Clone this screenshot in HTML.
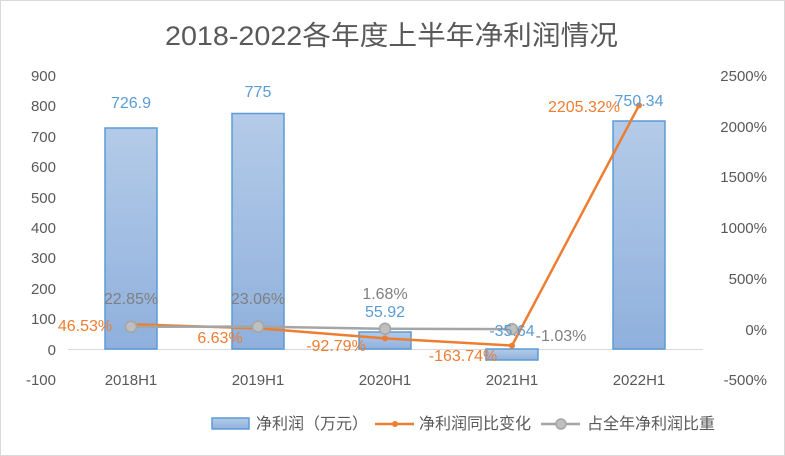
<!DOCTYPE html>
<html><head><meta charset="utf-8"><style>
html,body{margin:0;padding:0;background:#fff}
svg{display:block}
text{font-family:"Liberation Sans","Noto Sans CJK SC",sans-serif}
</style></head><body>
<svg width="785" height="456" viewBox="0 0 785 456">
<defs><linearGradient id="g" x1="0" y1="0" x2="0" y2="1"><stop offset="0" stop-color="#b4cbe8"/><stop offset="1" stop-color="#8fb0dd"/></linearGradient></defs>
<rect x="0.5" y="0.5" width="784" height="455" fill="#fff" stroke="#d9d9d9"/>
<text x="165" y="45" font-size="27" fill="#595959" textLength="453" lengthAdjust="spacingAndGlyphs">2018-2022各年度上半年净利润情况</text>
<g font-size="15" fill="#595959" text-anchor="end">
<text x="56" y="81">900</text><text x="56" y="111">800</text><text x="56" y="142">700</text><text x="56" y="172">600</text><text x="56" y="203">500</text><text x="56" y="233">400</text><text x="56" y="263">300</text><text x="56" y="294">200</text><text x="56" y="324">100</text><text x="56" y="355">0</text><text x="56" y="385">-100</text>
</g>
<g font-size="15" fill="#595959" text-anchor="end">
<text x="767" y="81">2500%</text><text x="767" y="132">2000%</text><text x="767" y="182">1500%</text><text x="767" y="233">1000%</text><text x="767" y="284">500%</text><text x="767" y="335">0%</text><text x="767" y="385">-500%</text>
</g>
<line x1="68" y1="349.5" x2="703" y2="349.5" stroke="#d9d9d9"/>
<g fill="url(#g)" stroke="#5b9bd5" stroke-width="1.5">
<rect x="105" y="128" width="52" height="221"/>
<rect x="232" y="113.5" width="52" height="235.5"/>
<rect x="359" y="332" width="52" height="17"/>
<rect x="486" y="349" width="52" height="11"/>
<rect x="613" y="121" width="52" height="228"/>
</g>
<g font-size="15" fill="#595959" text-anchor="middle">
<text x="131" y="385">2018H1</text><text x="258" y="385">2019H1</text><text x="385" y="385">2020H1</text><text x="512" y="385">2021H1</text><text x="639" y="385">2022H1</text>
</g>
<polyline points="131,324.3 258,328.3 385,338.4 512,345.6 639,105.4" fill="none" stroke="#ed7d31" stroke-width="2.5"/>
<g fill="#ed7d31"><circle cx="131" cy="324.3" r="3"/><circle cx="258" cy="328.3" r="3"/><circle cx="385" cy="338.4" r="3"/><circle cx="512" cy="345.6" r="3"/><circle cx="639" cy="105.4" r="3"/></g>
<polyline points="131,326.7 258,326.6 385,328.8 512,329.1" fill="none" stroke="#a5a5a5" stroke-width="2.5"/>
<g fill="#bfbfbf" stroke="#a5a5a5" stroke-width="1.5">
<circle cx="131" cy="326.7" r="5.5"/><circle cx="258" cy="326.6" r="5.5"/><circle cx="385" cy="328.8" r="5.5"/><circle cx="512" cy="329.1" r="5.5"/>
</g>
<g font-size="16" fill="#5b9bd5" text-anchor="middle">
<text x="131" y="108">726.9</text><text x="258" y="97">775</text><text x="385" y="317">55.92</text><text x="512" y="336">-35.64</text><text x="639" y="106">750.34</text>
</g>
<g font-size="16" fill="#ed7d31" text-anchor="middle">
<text x="85" y="331">46.53%</text><text x="220" y="343">6.63%</text><text x="336" y="351">-92.79%</text><text x="463" y="361">-163.74%</text><text x="584" y="112">2205.32%</text>
</g>
<g font-size="16" fill="#7f7f7f" text-anchor="middle">
<text x="131" y="304">22.85%</text><text x="258" y="304">23.06%</text><text x="385" y="299">1.68%</text><text x="561" y="341">-1.03%</text>
</g>
<rect x="212" y="418" width="37" height="11" fill="url(#g)" stroke="#5b9bd5" stroke-width="1.5"/>
<text x="256" y="429" font-size="16" fill="#595959">净利润（万元）</text>
<line x1="375" y1="424" x2="414" y2="424" stroke="#ed7d31" stroke-width="2.5"/><circle cx="395" cy="424" r="3" fill="#ed7d31"/>
<text x="419" y="429" font-size="16" fill="#595959">净利润同比变化</text>
<line x1="541" y1="424" x2="580" y2="424" stroke="#a5a5a5" stroke-width="2.5"/><circle cx="561" cy="424" r="5" fill="#bfbfbf" stroke="#a5a5a5" stroke-width="1.5"/>
<text x="587" y="429" font-size="16" fill="#595959">占全年净利润比重</text>
</svg>
</body></html>
